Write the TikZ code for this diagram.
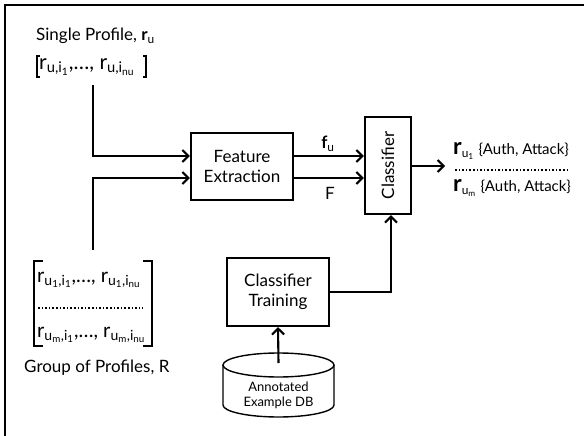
\documentclass[tikz,border=0pt]{standalone}
\usepackage{fontspec}
\setmainfont{Lato}
\usetikzlibrary{arrows.meta}
\tikzset{
  every node/.style={font=\fontsize{17}{19}\selectfont, inner sep=0pt},
  ln/.style={line width=2.1pt},
  arr/.style={line width=2.1pt, -{Straight Barb[length=6pt,width=12pt,line width=2.1pt]}},
  boxn/.style={draw, line width=2.1pt, align=center},
}
\newcommand{\rr}[2]{r\textsubscript{#1,i\textsubscript{#2}}}
\begin{document}
\begin{tikzpicture}[x=1pt,y=-1pt]
\useasboundingbox (0,0) rectangle (584,436);
% frame
\draw[line width=1.3pt] (5,440) -- (5,5) -- (590,5);

% single profile
\node[anchor=west] (st) at (36,36) {Single Profile, \textbf{r}\textsubscript{u}};
\node[anchor=west,font=\fontsize{21}{23}\selectfont] (sp) at (39,67) {\rr{u}{1},\ldots, \rr{u}{nu}};
\draw[ln] (40,56) -- (37,56) -- (37,77) -- (40,77);
\draw[ln] (143,56) -- (146,56) -- (146,77) -- (143,77);
\coordinate (s1) at (93,85);
\coordinate (s2) at (93,156);

% group
\coordinate (g1) at (93,250);
\coordinate (g2) at (93,178);
\draw[ln] (43,261) -- (34,261) -- (34,346) -- (43,346);
\draw[ln] (143,261) -- (152,261) -- (152,346) -- (143,346);
\node[anchor=west,font=\fontsize{20}{22}\selectfont] (gr1) at (37,280) {r\textsubscript{u\textsubscript{1},i\textsubscript{1}},\ldots, r\textsubscript{u\textsubscript{1},i\textsubscript{nu}}};
\draw[line width=1.6pt, dotted] (38,308) -- (143,308);
\node[anchor=west,font=\fontsize{20}{22}\selectfont] (gr2) at (37,335) {r\textsubscript{u\textsubscript{m},i\textsubscript{1}},\ldots, r\textsubscript{u\textsubscript{m},i\textsubscript{nu}}};
\node[anchor=west] (gl) at (24,368) {Group of Profiles, R};

% feature extraction
\node[boxn, minimum width=102pt, minimum height=67pt] (fe) at (242,166.5) {Feature\\[1pt]Extraction};
\draw[arr] (s1) -- (s2) -- (s2 -| fe.west);
\draw[arr] (g1) -- (g2) -- (g2 -| fe.west);

% classifier
\node[draw, line width=2.1pt, minimum width=46pt, minimum height=97pt] (cl) at (388,165.5) {};
\node[rotate=90] (clt) at (cl.center) {Classifier};
\coordinate (fa) at (293,156);
\coordinate (fb) at (293,178);
\draw[arr] (fa) -- (fa -| cl.west);
\draw[arr] (fb) -- (fb -| cl.west);
\node (fu) at (328,144) {\textbf{f}\textsubscript{u}};
\node (F) at (330,193) {F};

% output
\coordinate (o1) at (411,166);
\coordinate (o2) at (445,166);
\draw[arr] (o1) -- (o2);
\node[anchor=west] (out1) at (453,151) {{\fontsize{23}{23}\selectfont\textbf{r}}\textsubscript{u\textsubscript{1}} {\fontsize{15}{17}\selectfont\{Auth, Attack\}}};
\draw[line width=1.6pt, dotted] (455,170) -- (567,170);
\node[anchor=west] (out2) at (453,188) {{\fontsize{23}{23}\selectfont\textbf{r}}\textsubscript{u\textsubscript{m}} {\fontsize{15}{17}\selectfont\{Auth, Attack\}}};

% training
\node[boxn, minimum width=102pt, minimum height=68pt] (ct) at (278,292) {Classifier\\[1pt]Training};
\coordinate (t1) at (391,292);
\draw[arr] (ct.east) -- (t1) -- (t1 |- cl.south);

% DB
\draw[line width=1.4pt] (223,365) -- (223,405) arc[start angle=180,end angle=0,x radius=55.5,y radius=12] -- (334,365);
\draw[line width=1.4pt] (278.5,365) ellipse[x radius=55.5,y radius=12];
\node[align=center,font=\fontsize{13}{15}\selectfont] (db) at (278.5,395) {Annotated\\Example DB};
\coordinate (dbt) at (278.5,363);
\draw[arr] (dbt) -- (ct.south);
\end{tikzpicture}
\end{document}
